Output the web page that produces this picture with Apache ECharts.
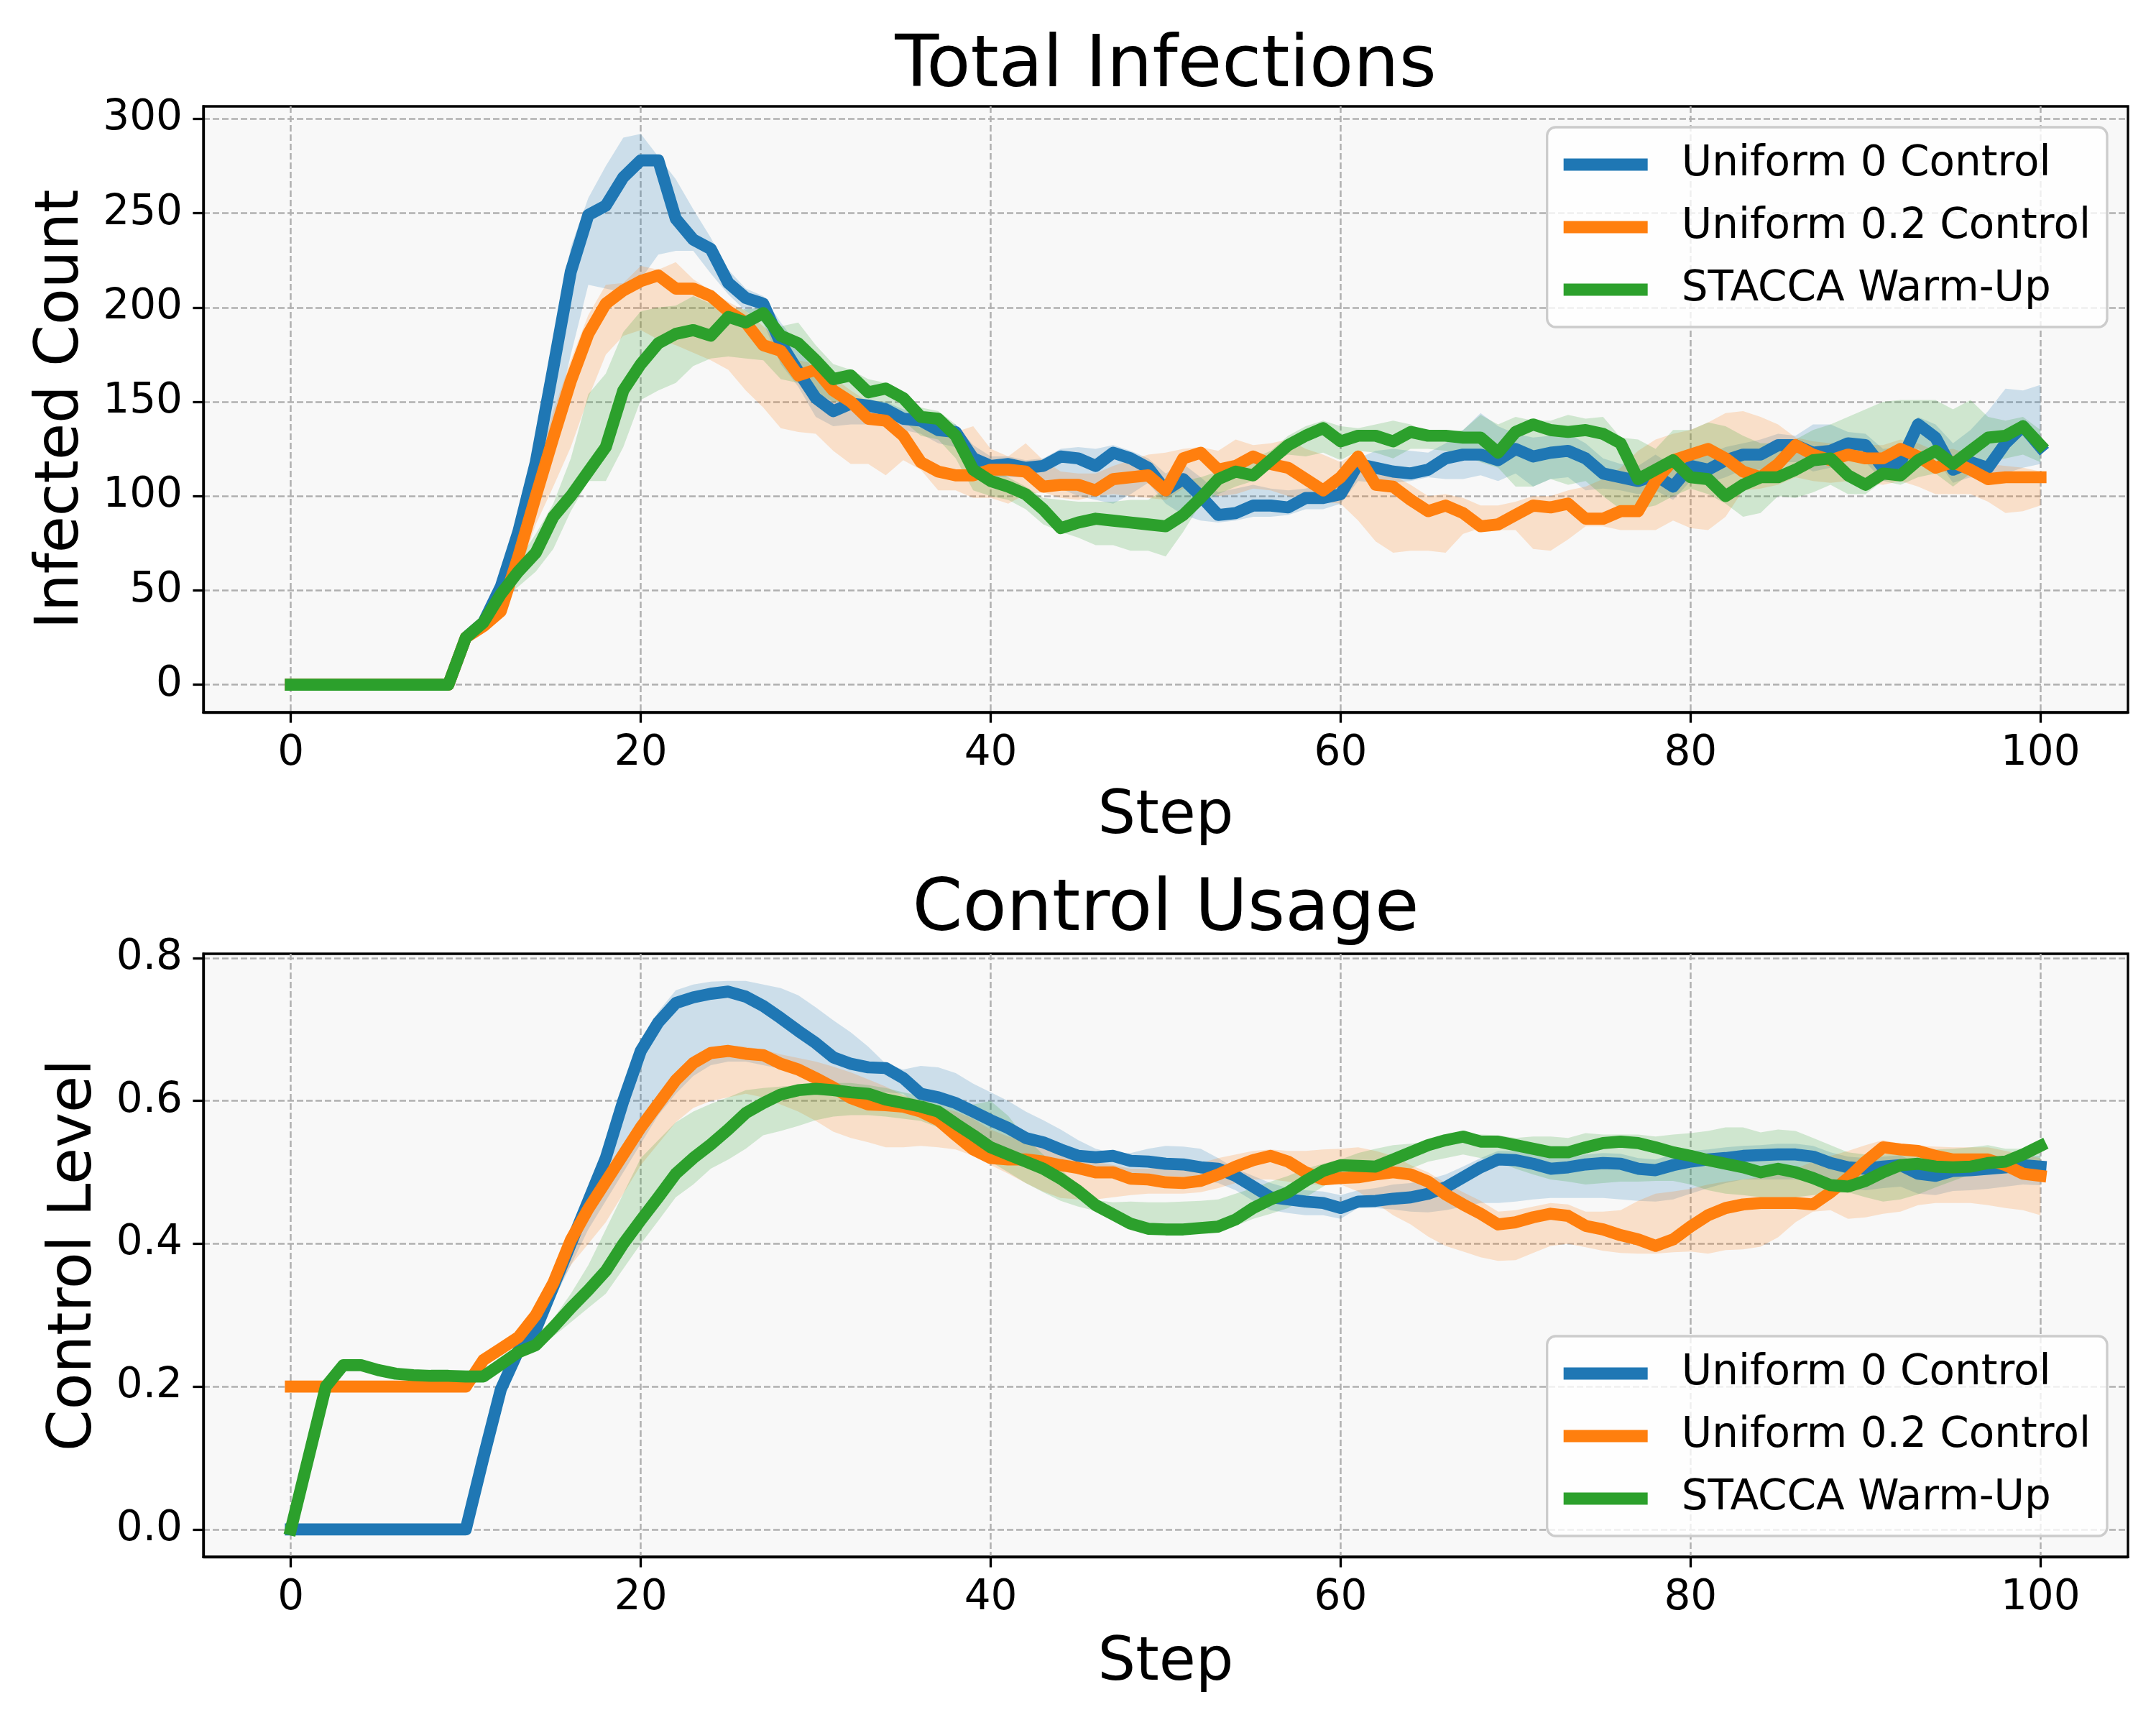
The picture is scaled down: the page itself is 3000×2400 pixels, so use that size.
<!DOCTYPE html>
<html>
<head>
<meta charset="utf-8">
<script src="https://cdn.jsdelivr.net/npm/echarts@6/dist/echarts.min.js"></script>
<style>html,body{margin:0;padding:0;background:#fff;}#chart{width:3000px;height:2400px;}</style>
</head>
<body>
<div id="chart"></div>
<script>
// ---------- data ----------
var steps = Array.from({length: 101}, function (_, i) { return i; });
var seriesNames = ['Uniform 0 Control', 'Uniform 0.2 Control', 'STACCA Warm-Up'];
var seriesColors = ['#1f77b4', '#ff7f0e', '#2ca02c'];
var bandColors = ['rgba(31,119,180,0.2)', 'rgba(255,127,14,0.2)', 'rgba(44,160,44,0.2)'];
var stepTicks = [0, 20, 40, 60, 80, 100];
var infTicks = [0, 50, 100, 150, 200, 250, 300];
var ctlTicks = [0, 0.2, 0.4, 0.6, 0.8];
var stepRange = [-5, 105];
var infRange = [-14.6, 306.6];
var ctlRange = [-0.0384, 0.806];

// Total Infections (mean, upper, lower)
var infU0 = [0,0,0,0,0,0,0,0,0,0, 25,33,52,81,118,168,219,249,254,269, 278,278,247,236,231,213,205,202,181,166, 152,145,149,148,146,141,140,135,134,120, 116,117,115,116,121,120,116,123,120,115, 103,109,100,90,91,95,95,94,99,99, 101,117,115,113,112,114,120,122,122,119, 125,121,123,124,120,112,110,108,111,105, 116,114,119,122,122,127,127,123,124,128, 127,115,118,138,131,114,118,115,128,137, 126];
var infU0Hi = [0,0,0,0,0,0,0,0,0,0, 26,35,58,88,128,180,232,258,275,290, 292,280,268,252,237,220,210,206,192,180, 165,155,152,151,150,146,144,140,138,127, 121,121,119,120,125,126,125,127,124,120, 112,117,110,102,104,106,104,103,104,106, 110,120,124,125,124,123,128,135,144,137, 133,131,132,133,128,120,117,116,122,116, 124,122,126,128,130,133,132,138,138,134, 133,125,126,142,138,128,135,145,157,156, 159];
var infU0Lo = [0,0,0,0,0,0,0,0,0,0, 24,31,47,72,100,135,175,212,210,208, 215,228,230,230,218,207,198,192,170,158, 142,137,138,138,140,135,133,128,126,114, 110,110,110,108,104,100,98,96,101,107, 96,90,87,86,87,89,89,90,93,93, 96,108,107,107,108,110,109,109,111,108, 112,105,109,110,103,104,103,101,103,98, 108,107,110,114,114,118,118,113,115,119, 118,108,110,125,120,107,110,108,112,115, 117];
var infU2 = [0,0,0,0,0,0,0,0,0,0, 25,31,39,68,100,131,161,186,202,209, 214,217,210,210,206,198,192,180,177,164, 167,156,150,141,140,132,118,113,111,111, 114,114,113,105,106,106,103,109,110,111, 103,120,123,114,116,121,117,115,109,103, 110,121,106,105,98,92,95,91,84,85, 90,95,94,96,88,88,92,92,108,119, 122,125,120,113,110,117,127,122,119,122, 120,120,125,121,115,118,114,109,110,110, 110];
var infU2Hi = [0,0,0,0,0,0,0,0,0,0, 26,33,45,78,112,145,172,196,212,213, 222,220,224,215,209,203,198,190,182,172, 170,163,156,150,146,140,136,134,134,137, 125,121,128,119,113,112,112,116,119,122, 123,125,126,124,130,127,128,130,125,122, 118,124,113,111,106,100,101,99,95,95, 97,100,100,103,105,109,115,124,130,133, 135,139,144,145,142,138,131,129,128,128, 127,127,130,128,124,125,122,117,116,115, 113];
var infU2Lo = [0,0,0,0,0,0,0,0,0,0, 24,29,35,58,85,105,126,152,175,185, 188,183,180,176,172,167,156,147,136,134, 133,124,117,117,111,119,114,103,103,99, 99,96,101,102,99,98,100,101,100,99, 98,104,103,100,101,104,103,100,98,97, 96,87,76,70,71,71,70,80,83,82, 82,72,71,77,84,84,82,82,82,87, 83,82,89,103,104,106,110,108,107,108, 107,106,108,105,101,101,101,97,91,92, 95];
var infSt = [0,0,0,0,0,0,0,0,0,0, 25,33,48,60,70,89,100,113,126,156, 170,181,186,188,185,195,192,197,185,181, 172,162,164,155,157,152,142,141,132,114, 108,105,101,93,83,86,88,87,86,85, 84,90,99,109,113,111,119,127,132,136, 129,132,132,129,134,132,132,131,131,123, 134,138,135,134,135,133,128,109,114,119, 110,109,100,106,110,110,114,119,120,111, 106,112,111,119,124,117,124,131,132,137, 127];
var infStHi = [0,0,0,0,0,0,0,0,0,0, 26,35,52,66,80,96,120,154,165,187, 198,200,201,206,202,200,199,200,190,192, 180,170,167,162,160,155,147,145,138,125, 115,110,105,99,98,97,97,97,98,98, 104,108,110,113,118,120,124,132,137,140, 137,136,138,140,138,134,134,135,143,138, 142,140,140,143,141,142,131,130,125,135, 135,139,137,132,128,128,130,135,138,142, 146,150,151,151,151,146,151,142,140,142, 135];
var infStLo = [0,0,0,0,0,0,0,0,0,0, 24,31,45,52,60,72,92,108,108,126, 151,156,160,169,173,174,173,172,162,160, 155,150,150,145,145,140,132,130,120,103, 100,98,93,85,81,78,74,74,71,71, 68,81,96,101,105,108,118,122,121,123, 119,124,123,120,125,125,124,122,118,115, 105,105,109,106,108,100,93,93,95,100, 104,101,96,89,91,100,99,102,106,101, 101,108,106,110,112,105,112,118,120,122, 118];

// Control Usage (mean, upper, lower)
var ctlU0 = [0,0,0,0,0,0,0,0,0,0, 0,0.1,0.196,0.25,0.28,0.34,0.40,0.46,0.52,0.60, 0.67,0.71,0.737,0.745,0.75,0.753,0.746,0.733,0.716,0.698, 0.681,0.661,0.652,0.647,0.646,0.632,0.61,0.605,0.597,0.585, 0.573,0.562,0.548,0.542,0.532,0.523,0.521,0.523,0.516,0.515, 0.512,0.511,0.507,0.505,0.495,0.48,0.465,0.462,0.459,0.457, 0.45,0.459,0.46,0.463,0.465,0.47,0.479,0.493,0.507,0.518, 0.517,0.512,0.505,0.507,0.511,0.513,0.512,0.505,0.503,0.51, 0.515,0.518,0.52,0.523,0.524,0.525,0.525,0.522,0.513,0.507, 0.505,0.508,0.51,0.498,0.495,0.502,0.503,0.505,0.507,0.51, 0.508];
var ctlU0Hi = [0,0,0,0,0,0,0,0,0,0, 0,0.1,0.2,0.26,0.29,0.35,0.41,0.47,0.535,0.615, 0.68,0.725,0.755,0.763,0.767,0.768,0.768,0.763,0.758,0.748, 0.731,0.713,0.696,0.676,0.652,0.644,0.649,0.647,0.639,0.624, 0.612,0.6,0.585,0.573,0.56,0.545,0.533,0.527,0.527,0.533, 0.537,0.536,0.533,0.52,0.505,0.495,0.485,0.478,0.475,0.473, 0.468,0.475,0.478,0.483,0.485,0.49,0.497,0.508,0.52,0.53, 0.53,0.525,0.52,0.52,0.525,0.527,0.526,0.52,0.518,0.525, 0.53,0.532,0.535,0.537,0.538,0.54,0.54,0.537,0.528,0.522, 0.52,0.522,0.524,0.512,0.51,0.516,0.518,0.52,0.522,0.525, 0.523];
var ctlU0Lo = [0,0,0,0,0,0,0,0,0,0, 0,0.095,0.19,0.24,0.27,0.32,0.37,0.42,0.46,0.50, 0.54,0.58,0.61,0.635,0.65,0.655,0.655,0.65,0.645,0.64, 0.632,0.625,0.618,0.615,0.612,0.61,0.59,0.575,0.565,0.555, 0.54,0.53,0.515,0.51,0.505,0.5,0.5,0.5,0.497,0.496, 0.495,0.494,0.49,0.485,0.475,0.46,0.447,0.443,0.44,0.44, 0.435,0.45,0.45,0.448,0.445,0.444,0.447,0.452,0.457,0.457, 0.459,0.462,0.464,0.464,0.464,0.464,0.462,0.46,0.459,0.462, 0.47,0.478,0.485,0.49,0.49,0.49,0.49,0.487,0.482,0.477, 0.475,0.478,0.48,0.47,0.468,0.474,0.475,0.477,0.48,0.483, 0.482];
var ctlU2 = [0.2,0.2,0.2,0.2,0.2,0.2,0.2,0.2,0.2,0.2, 0.2,0.237,0.253,0.269,0.30,0.345,0.405,0.449,0.487,0.525, 0.563,0.596,0.629,0.653,0.667,0.670,0.666,0.664,0.652,0.644, 0.632,0.619,0.604,0.595,0.594,0.592,0.585,0.573,0.552,0.532, 0.52,0.518,0.518,0.515,0.51,0.506,0.5,0.5,0.491,0.49, 0.486,0.485,0.488,0.497,0.508,0.517,0.523,0.515,0.5,0.49, 0.492,0.493,0.497,0.5,0.497,0.487,0.469,0.455,0.442,0.427, 0.43,0.437,0.442,0.439,0.425,0.42,0.412,0.406,0.397,0.406, 0.424,0.44,0.45,0.455,0.457,0.457,0.457,0.455,0.472,0.492, 0.515,0.535,0.532,0.53,0.523,0.518,0.518,0.518,0.51,0.498, 0.495];
var ctlU2Hi = [0.2,0.2,0.2,0.2,0.2,0.2,0.2,0.2,0.2,0.2, 0.2,0.24,0.258,0.278,0.31,0.355,0.415,0.46,0.50,0.54, 0.575,0.608,0.64,0.663,0.676,0.678,0.676,0.672,0.665,0.66, 0.655,0.648,0.64,0.63,0.62,0.608,0.6,0.592,0.585,0.575, 0.56,0.55,0.545,0.537,0.53,0.522,0.515,0.51,0.505,0.505, 0.51,0.512,0.513,0.52,0.525,0.53,0.532,0.53,0.53,0.532, 0.533,0.535,0.53,0.523,0.51,0.5,0.485,0.472,0.46,0.445, 0.447,0.452,0.457,0.455,0.445,0.445,0.447,0.46,0.47,0.473, 0.477,0.483,0.487,0.49,0.493,0.5,0.505,0.515,0.523,0.53, 0.538,0.545,0.54,0.537,0.536,0.535,0.535,0.535,0.53,0.525, 0.52];
var ctlU2Lo = [0.2,0.2,0.2,0.2,0.2,0.2,0.2,0.2,0.2,0.2, 0.2,0.232,0.245,0.258,0.285,0.325,0.37,0.40,0.43,0.47, 0.51,0.54,0.57,0.59,0.60,0.605,0.61,0.605,0.595,0.585, 0.572,0.557,0.548,0.542,0.535,0.535,0.537,0.535,0.532,0.523, 0.51,0.498,0.485,0.473,0.464,0.462,0.462,0.465,0.468,0.47, 0.47,0.47,0.472,0.478,0.485,0.49,0.49,0.487,0.483,0.483, 0.483,0.473,0.457,0.44,0.427,0.41,0.397,0.389,0.381,0.376, 0.377,0.387,0.397,0.4,0.395,0.39,0.387,0.386,0.386,0.388, 0.389,0.386,0.391,0.392,0.396,0.409,0.43,0.445,0.447,0.435, 0.437,0.442,0.445,0.454,0.457,0.457,0.457,0.454,0.45,0.447, 0.44];
var ctlSt = [0,0.1,0.2,0.23,0.23,0.223,0.218,0.216,0.215,0.215, 0.214,0.214,0.231,0.248,0.258,0.283,0.31,0.335,0.362,0.40, 0.433,0.465,0.498,0.52,0.539,0.56,0.583,0.597,0.609,0.615, 0.617,0.615,0.612,0.61,0.602,0.597,0.592,0.585,0.568,0.552, 0.535,0.525,0.515,0.505,0.491,0.474,0.454,0.441,0.428,0.421, 0.42,0.42,0.422,0.424,0.434,0.45,0.462,0.472,0.488,0.502, 0.51,0.509,0.508,0.518,0.528,0.538,0.545,0.55,0.543,0.543, 0.538,0.533,0.528,0.528,0.535,0.541,0.543,0.541,0.535,0.528, 0.523,0.517,0.512,0.507,0.5,0.505,0.5,0.492,0.482,0.48, 0.488,0.5,0.51,0.512,0.508,0.507,0.508,0.513,0.515,0.525, 0.537];
var ctlStHi = [0,0.1,0.2,0.232,0.232,0.225,0.22,0.218,0.217,0.217, 0.216,0.216,0.235,0.255,0.268,0.295,0.33,0.37,0.42,0.47, 0.52,0.545,0.57,0.585,0.596,0.605,0.615,0.618,0.62,0.622, 0.625,0.625,0.625,0.622,0.618,0.612,0.607,0.6,0.597,0.595, 0.6,0.579,0.548,0.525,0.505,0.48,0.461,0.458,0.459,0.458, 0.458,0.459,0.46,0.462,0.47,0.478,0.487,0.495,0.505,0.512, 0.518,0.527,0.533,0.538,0.54,0.543,0.548,0.555,0.553,0.552, 0.548,0.55,0.55,0.548,0.555,0.553,0.553,0.553,0.55,0.553, 0.555,0.558,0.563,0.563,0.556,0.56,0.558,0.548,0.538,0.528, 0.525,0.525,0.527,0.53,0.532,0.533,0.535,0.538,0.533,0.533, 0.54];
var ctlStLo = [0,0.1,0.198,0.228,0.228,0.221,0.216,0.214,0.213,0.213, 0.212,0.212,0.225,0.24,0.25,0.27,0.29,0.31,0.33,0.365, 0.40,0.432,0.465,0.483,0.505,0.518,0.533,0.552,0.558,0.565, 0.573,0.578,0.58,0.58,0.578,0.575,0.572,0.563,0.548,0.532, 0.515,0.5,0.485,0.472,0.46,0.452,0.446,0.435,0.424,0.418, 0.416,0.416,0.418,0.42,0.425,0.435,0.442,0.45,0.465,0.48, 0.495,0.49,0.49,0.495,0.505,0.515,0.52,0.525,0.52,0.515, 0.505,0.497,0.49,0.487,0.483,0.485,0.487,0.487,0.488,0.488, 0.483,0.475,0.47,0.468,0.465,0.465,0.465,0.468,0.47,0.472, 0.465,0.459,0.462,0.469,0.479,0.488,0.497,0.5,0.5,0.505, 0.51];

// ---------- chart ----------
var FONT = 'DejaVu Sans';
function pairs(vals) { return steps.map(function (s, i) { return [s, vals[i]]; }); }

function lineSeries(g, k, vals) {
  var col = seriesColors[k];
  return {
    type: 'line', name: seriesNames[k], xAxisIndex: g, yAxisIndex: g,
    data: pairs(vals), symbol: 'none', showSymbol: false, color: col,
    lineStyle: { width: 16.7, color: col, join: 'round', cap: 'square' },
    emphasis: { disabled: true }, silent: true, z: 2
  };
}
function bandSeries(g, k, hi, lo) {
  var fill = bandColors[k];
  return {
    type: 'custom', name: 'band_' + g + '_' + k, xAxisIndex: g, yAxisIndex: g,
    silent: true, z: 2,
    data: steps.map(function (s, i) { return [s, lo[i], hi[i]]; }),
    encode: { x: 0, y: [1, 2] },
    renderItem: function (params, api) {
      if (params.dataIndex !== 0) return null;
      var pts = [], i;
      for (i = 0; i < steps.length; i++) pts.push(api.coord([steps[i], hi[i]]));
      for (i = steps.length - 1; i >= 0; i--) pts.push(api.coord([steps[i], lo[i]]));
      return { type: 'polygon', shape: { points: pts }, style: { fill: fill, stroke: null } };
    }
  };
}
function buildSeries(g, groups) {
  var out = [];
  groups.forEach(function (grp, k) {
    out.push(lineSeries(g, k, grp[0]));
    out.push(bandSeries(g, k, grp[1], grp[2]));
  });
  return out;
}

function xAxisCfg(g, gap) {
  return {
    type: 'value', gridIndex: g, min: stepRange[0], max: stepRange[1],
    name: 'Step', nameLocation: 'middle', nameGap: gap,
    nameTextStyle: { fontFamily: FONT, fontSize: 83, color: '#000', lineHeight: 83 },
    axisLine: { show: true, onZero: false, lineStyle: { color: '#000', width: 3.3 } },
    axisTick: { show: true, customValues: stepTicks, length: 14.6, lineStyle: { color: '#000', width: 3.3 } },
    axisLabel: { customValues: stepTicks, margin: 29, fontFamily: FONT, fontSize: 58, color: '#000' },
    splitLine: { show: true, lineStyle: { color: '#b0b0b0', width: 2.5, type: [9, 4] } }
  };
}
function yAxisCfg(g, name, range, ticks, gap, fmt) {
  return {
    type: 'value', gridIndex: g, min: range[0], max: range[1],
    name: name, nameLocation: 'middle', nameGap: gap,
    nameTextStyle: { fontFamily: FONT, fontSize: 83, color: '#000', lineHeight: 83 },
    axisLine: { show: true, onZero: false, lineStyle: { color: '#000', width: 3.3 } },
    axisTick: { show: true, customValues: ticks, length: 14.6, lineStyle: { color: '#000', width: 3.3 } },
    axisLabel: { customValues: ticks, margin: 29, fontFamily: FONT, fontSize: 58, color: '#000', formatter: fmt },
    splitLine: { show: true, lineStyle: { color: '#b0b0b0', width: 2.5, type: [9, 4] } }
  };
}
function legendCfg(top) {
  return {
    data: seriesNames, orient: 'vertical', right: 68, top: top,
    padding: [23, 23, 23, 23], itemWidth: 117, itemHeight: 17, itemGap: 29,
    icon: 'rect', selectedMode: false,
    textStyle: { fontFamily: FONT, fontSize: 58, color: '#000', lineHeight: 58, padding: [0, 0, 0, 42] },
    backgroundColor: 'rgba(255,255,255,0.8)', borderColor: '#cccccc', borderWidth: 3.3, borderRadius: 12
  };
}

var chart = echarts.init(document.getElementById('chart'), null, { renderer: 'canvas', devicePixelRatio: 1 });
var option = {
  animation: false,
  backgroundColor: '#ffffff',
  title: [
    { text: 'Total Infections', left: 1622, top: 44, textAlign: 'center', padding: 0,
      textStyle: { fontFamily: FONT, fontSize: 100, fontWeight: 'normal', color: '#000', lineHeight: 100 } },
    { text: 'Control Usage', left: 1622, top: 1218, textAlign: 'center', padding: 0,
      textStyle: { fontFamily: FONT, fontSize: 100, fontWeight: 'normal', color: '#000', lineHeight: 100 } }
  ],
  grid: [
    { left: 283, right: 39, top: 148, height: 843, show: true, backgroundColor: '#f8f8f8', borderColor: '#000', borderWidth: 3.3 },
    { left: 283, right: 39, top: 1327, height: 839, show: true, backgroundColor: '#f8f8f8', borderColor: '#000', borderWidth: 3.3 }
  ],
  xAxis: [xAxisCfg(0, 105), xAxisCfg(1, 108)],
  yAxis: [
    yAxisCfg(0, 'Infected Count', infRange, infTicks, 155, function (v) { return String(Math.round(v)); }),
    yAxisCfg(1, 'Control Level', ctlRange, ctlTicks, 137, function (v) { return v.toFixed(1); })
  ],
  legend: [legendCfg(177), legendCfg(1859)],
  series: buildSeries(0, [[infU0, infU0Hi, infU0Lo], [infU2, infU2Hi, infU2Lo], [infSt, infStHi, infStLo]])
    .concat(buildSeries(1, [[ctlU0, ctlU0Hi, ctlU0Lo], [ctlU2, ctlU2Hi, ctlU2Lo], [ctlSt, ctlStHi, ctlStLo]]))
};
chart.setOption(option);
</script>
</body>
</html>
